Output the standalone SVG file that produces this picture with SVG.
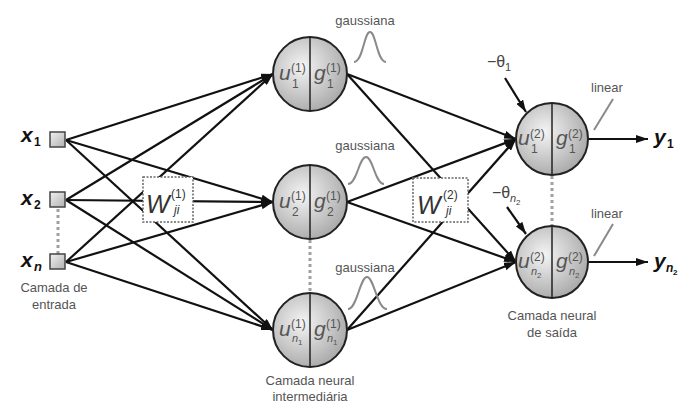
<svg xmlns="http://www.w3.org/2000/svg" width="684" height="405" viewBox="0 0 684 405">
<defs>
<radialGradient id="ball" cx="0.4" cy="0.4" r="0.65">
<stop offset="0" stop-color="#f4f4f4"/>
<stop offset="1" stop-color="#a8a8a8"/>
</radialGradient>
<linearGradient id="sq" x1="0" y1="0" x2="1" y2="1">
<stop offset="0" stop-color="#f2f2f2"/>
<stop offset="1" stop-color="#b0b0b0"/>
</linearGradient>
<marker id="ah" viewBox="0 0 12 8" refX="12" refY="4" markerWidth="12" markerHeight="8" markerUnits="userSpaceOnUse" orient="auto">
<path d="M0,0 L12,4 L0,8 Z" fill="#111"/>
</marker>
<style>
.c{stroke:#111;stroke-width:2.2;fill:none;marker-end:url(#ah)}
.dot{stroke:#a0a0a0;stroke-width:3;stroke-dasharray:3,3;fill:none}
.gs{stroke:#8a8a8a;stroke-width:2;fill:none}
.nb{fill:url(#ball);stroke:#222;stroke-width:2}
.dv{stroke:#222;stroke-width:1.5}
.sqr{fill:url(#sq);stroke:#444;stroke-width:1.5}
.wb{fill:#fff;stroke:#666;stroke-width:1.5;stroke-dasharray:2,1.5}
.lbl{font-family:"Liberation Sans",Arial,sans-serif;fill:#555;font-size:13px}
.var{font-family:"Liberation Sans",Arial,sans-serif;fill:#111;font-weight:bold}
.it{font-style:italic}
.nl{font-family:"Liberation Sans",Arial,sans-serif;fill:#555}
.wl{font-family:"Liberation Sans",Arial,sans-serif;fill:#333}
.th{font-family:"Liberation Sans",Arial,sans-serif;fill:#444}
</style>
</defs>

<g id="connectors">
<line class="c" x1="66" y1="140" x2="273" y2="74"/>
<line class="c" x1="66" y1="140" x2="273" y2="202"/>
<line class="c" x1="66" y1="140" x2="273" y2="330"/>
<line class="c" x1="66" y1="200" x2="273" y2="74"/>
<line class="c" x1="66" y1="200" x2="273" y2="202"/>
<line class="c" x1="66" y1="200" x2="273" y2="330"/>
<line class="c" x1="66" y1="262" x2="273" y2="74"/>
<line class="c" x1="66" y1="262" x2="273" y2="202"/>
<line class="c" x1="66" y1="262" x2="273" y2="330"/>
<line class="c" x1="347" y1="74" x2="516" y2="139"/>
<line class="c" x1="347" y1="74" x2="516" y2="262"/>
<line class="c" x1="347" y1="202" x2="516" y2="139"/>
<line class="c" x1="347" y1="202" x2="516" y2="262"/>
<line class="c" x1="347" y1="330" x2="516" y2="139"/>
<line class="c" x1="347" y1="330" x2="516" y2="262"/>
<line class="c" x1="505" y1="78" x2="526" y2="112"/>
<line class="c" x1="507" y1="207" x2="526" y2="234"/>
<line class="c" x1="588" y1="139" x2="648" y2="139"/>
<line class="c" x1="588" y1="262" x2="648" y2="262"/>
<line class="dot" x1="58" y1="209" x2="58" y2="254"/>
<line class="dot" x1="310" y1="240" x2="310" y2="292"/>
<line class="dot" x1="552" y1="176" x2="552" y2="225"/>
</g>

<g id="W1">
<rect class="wb" x="143" y="177" width="50" height="45"/>
<text class="wl it" x="146" y="213" font-size="25">W</text>
<text class="wl" x="171" y="198" font-size="12">(1)</text>
<text class="wl it" x="174" y="214" font-size="12">ji</text>
</g>
<g id="W2">
<rect class="wb" x="413" y="178" width="55" height="44"/>
<text class="wl it" x="417" y="214" font-size="25">W</text>
<text class="wl" x="443" y="199" font-size="12">(2)</text>
<text class="wl it" x="446" y="215" font-size="12">ji</text>
</g>

<g id="x1">
<rect class="sqr" x="50" y="132" width="15" height="15"/>
<text class="var it" x="21" y="142" font-size="21">x</text>
<text class="var" x="34" y="146" font-size="12">1</text>
</g>
<g id="x2">
<rect class="sqr" x="50" y="192" width="15" height="15"/>
<text class="var it" x="21" y="205" font-size="21">x</text>
<text class="var" x="34" y="209" font-size="12">2</text>
</g>
<g id="xn">
<rect class="sqr" x="50" y="254" width="15" height="15"/>
<text class="var it" x="21" y="267" font-size="21">x</text>
<text class="var it" x="34" y="271" font-size="13">n</text>
<text class="lbl" x="54" y="292" text-anchor="middle">Camada de</text>
<text class="lbl" x="54" y="309" text-anchor="middle">entrada</text>
</g>

<g id="h1">
<circle class="nb" cx="310" cy="74" r="37"/>
<line class="dv" x1="310" y1="37" x2="310" y2="111"/>
<text class="nl it" x="279" y="80" font-size="21">u</text>
<text class="nl" x="291" y="72" font-size="12">(1)</text>
<text class="nl" x="292" y="88" font-size="12">1</text>
<text class="nl it" x="314" y="80" font-size="21">g</text>
<text class="nl" x="326" y="72" font-size="12">(1)</text>
<text class="nl" x="327" y="88" font-size="12">1</text>
<text class="lbl" x="365" y="25" text-anchor="middle">gaussiana</text>
<path class="gs" d="M354,62 C363,62 364,32 370,32 C376,32 377,62 386,62"/>
</g>
<g id="h2">
<circle class="nb" cx="310" cy="202" r="37"/>
<line class="dv" x1="310" y1="165" x2="310" y2="239"/>
<text class="nl it" x="279" y="208" font-size="21">u</text>
<text class="nl" x="291" y="200" font-size="12">(1)</text>
<text class="nl" x="292" y="216" font-size="12">2</text>
<text class="nl it" x="314" y="208" font-size="21">g</text>
<text class="nl" x="326" y="200" font-size="12">(1)</text>
<text class="nl" x="327" y="216" font-size="12">2</text>
<text class="lbl" x="365" y="150" text-anchor="middle">gaussiana</text>
<path class="gs" d="M348,184 C357,184 359,157 366,157 C373,157 375,184 384,184"/>
</g>
<g id="h3">
<circle class="nb" cx="310" cy="330" r="37"/>
<line class="dv" x1="310" y1="293" x2="310" y2="367"/>
<text class="nl it" x="279" y="336" font-size="21">u</text>
<text class="nl" x="291" y="328" font-size="12">(1)</text>
<text class="nl it" x="292" y="342" font-size="11">n</text>
<text class="nl" x="298" y="345" font-size="8">1</text>
<text class="nl it" x="314" y="336" font-size="21">g</text>
<text class="nl" x="326" y="328" font-size="12">(1)</text>
<text class="nl it" x="327" y="342" font-size="11">n</text>
<text class="nl" x="333" y="345" font-size="8">1</text>
<text class="lbl" x="365" y="272" text-anchor="middle">gaussiana</text>
<path class="gs" d="M348,309 C357,309 360,277 367,277 C374,277 377,309 387,309"/>
<text class="lbl" x="310" y="385" text-anchor="middle">Camada neural</text>
<text class="lbl" x="310" y="401" text-anchor="middle">intermediária</text>
</g>

<g id="o1">
<circle class="nb" cx="552" cy="139" r="36"/>
<line class="dv" x1="552" y1="103" x2="552" y2="175"/>
<text class="nl it" x="518" y="145" font-size="21">u</text>
<text class="nl" x="530" y="138" font-size="12">(2)</text>
<text class="nl" x="531" y="153" font-size="12">1</text>
<text class="nl it" x="556" y="145" font-size="21">g</text>
<text class="nl" x="568" y="138" font-size="12">(2)</text>
<text class="nl" x="569" y="153" font-size="12">1</text>
<text class="th" x="487" y="67" font-size="16">−θ</text>
<text class="th" x="505" y="71" font-size="11">1</text>
<text class="lbl" x="607" y="92" text-anchor="middle" font-size="12">linear</text>
<line class="gs" x1="613" y1="99" x2="594" y2="130"/>
<text class="var it" x="654" y="144" font-size="21">y</text>
<text class="var" x="667" y="148" font-size="12">1</text>
</g>
<g id="o2">
<circle class="nb" cx="552" cy="262" r="36"/>
<line class="dv" x1="552" y1="226" x2="552" y2="298"/>
<text class="nl it" x="518" y="268" font-size="21">u</text>
<text class="nl" x="530" y="261" font-size="12">(2)</text>
<text class="nl it" x="531" y="275" font-size="11">n</text>
<text class="nl" x="537" y="278" font-size="8">2</text>
<text class="nl it" x="556" y="268" font-size="21">g</text>
<text class="nl" x="568" y="261" font-size="12">(2)</text>
<text class="nl it" x="569" y="275" font-size="11">n</text>
<text class="nl" x="575" y="278" font-size="8">2</text>
<text class="th" x="492" y="198" font-size="16">−θ</text>
<text class="th it" x="510" y="202" font-size="11">n</text>
<text class="th" x="516" y="205" font-size="8">2</text>
<text class="lbl" x="607" y="218" text-anchor="middle" font-size="12">linear</text>
<line class="gs" x1="613" y1="224" x2="594" y2="256"/>
<text class="var it" x="654" y="268" font-size="21">y</text>
<text class="var it" x="666" y="272" font-size="12">n</text>
<text class="var" x="673" y="275" font-size="8">2</text>
<text class="lbl" x="552" y="320" text-anchor="middle">Camada neural</text>
<text class="lbl" x="552" y="337" text-anchor="middle">de saída</text>
</g>
</svg>
